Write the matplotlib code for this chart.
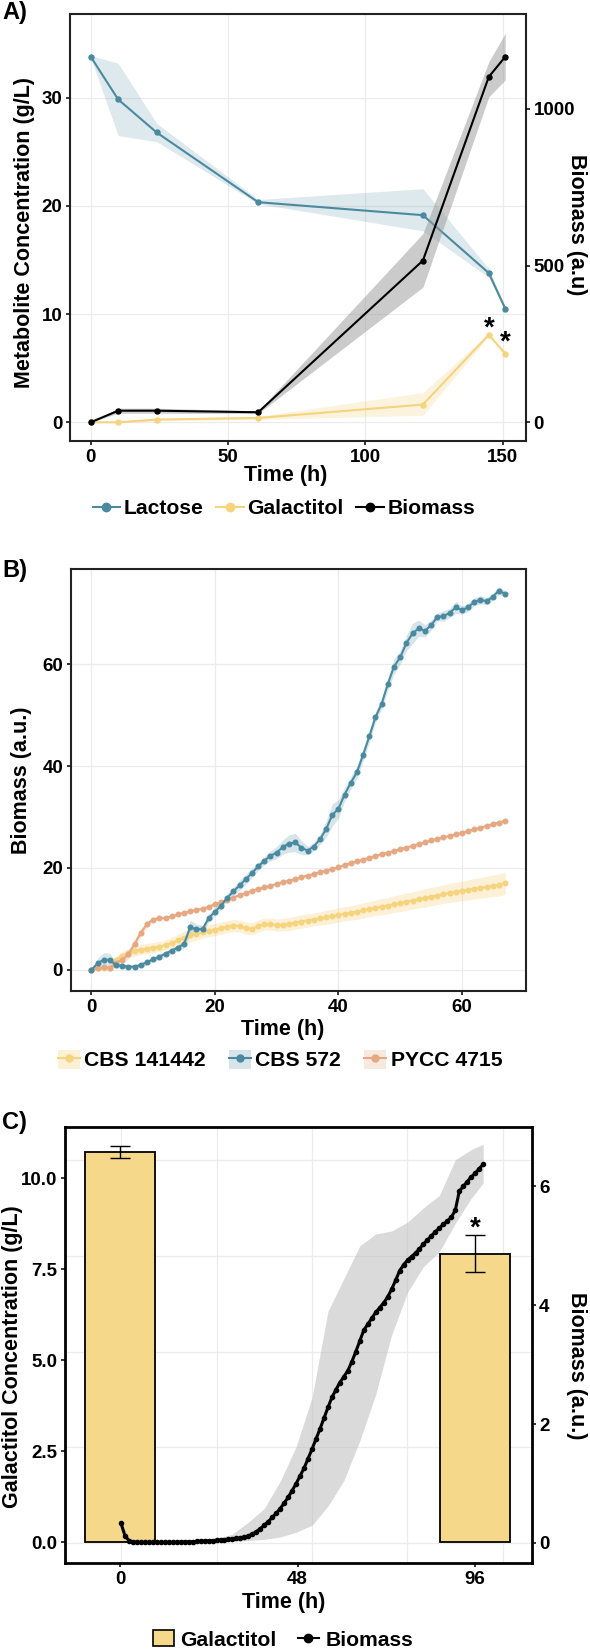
import matplotlib
matplotlib.use('Agg')
import matplotlib.pyplot as plt
from matplotlib.patches import Patch
from matplotlib.lines import Line2D
import numpy as np

# ---------------- DATA ----------------
# Panel A
a_time = [0, 10, 24, 61, 121, 145, 151]
lactose = [33.8, 29.85, 26.8, 20.35, 19.15, 13.8, 10.5]
lactose_lo = [33.7, 26.5, 25.95, 20.2, 17.7, 13.4, 10.3]
lactose_hi = [33.9, 33.2, 27.65, 20.6, 21.6, 14.2, 10.7]
galactitol = [0.0, 0.0, 0.25, 0.4, 1.64, 8.09, 6.35]
galactitol_lo = [0.0, -0.05, 0.15, 0.25, 0.65, 7.95, 6.2]
galactitol_hi = [0.0, 0.05, 0.35, 0.55, 2.75, 8.25, 6.5]
biomass_a = [0, 37, 37, 32, 516, 1102, 1166]
biomass_a_lo = [0, 29, 29, 28, 431, 1038, 1092]
biomass_a_hi = [0, 45, 45, 36, 602, 1150, 1241]

# Panel B (hourly, 0..67 h)
b_time = list(range(68))
cbs141442 = [0, 0.3, 0.3, 0.3, 2.0, 2.8, 3.3, 3.7, 4.0, 4.2, 4.4, 4.6, 4.9, 5.3, 5.8, 6.3, 6.8,
             7.1, 7.4, 7.7, 7.9, 8.2, 8.5, 8.7, 8.6, 8.2, 8.1, 8.6, 9.0, 9.0, 8.8, 8.9, 9.0, 9.3,
             9.5, 9.7, 9.9, 10.1, 10.3, 10.5, 10.8, 11.0, 11.2, 11.4, 11.7, 11.9, 12.2, 12.4,
             12.6, 12.9, 13.1, 13.4, 13.6, 13.9, 14.1, 14.4, 14.6, 14.9, 15.1, 15.3, 15.5, 15.7,
             15.9, 16.1, 16.3, 16.5, 16.7, 17.0]
cbs141442_sd = [0.2, 0.3, 0.4, 0.5, 0.7, 0.8, 0.9, 1.0, 1.0, 1.0, 1.0, 1.0, 1.0, 1.1, 1.2, 1.3,
                1.3, 1.3, 1.2, 1.2, 1.2, 1.2, 1.2, 1.2, 1.2, 1.2, 1.2, 1.2, 1.2, 1.2, 1.2, 1.2,
                1.3, 1.3, 1.3, 1.3, 1.3, 1.3, 1.4, 1.4, 1.4, 1.4, 1.4, 1.5, 1.5, 1.5, 1.5, 1.6,
                1.6, 1.6, 1.7, 1.7, 1.7, 1.7, 1.8, 1.8, 1.8, 1.8, 1.9, 1.9, 1.9, 2.0, 2.0, 2.0,
                2.1, 2.1, 2.2, 2.2]
cbs572 = [0, 1.3, 2.0, 2.0, 0.9, 0.8, 0.65, 0.65, 1.0, 1.5, 2.1, 2.6, 3.2, 3.8, 4.4, 5.1, 8.4,
          8.0, 8.0, 10.2, 11.4, 12.6, 14.2, 15.4, 16.6, 17.8, 19.0, 20.3, 21.4, 22.4, 23.0, 24.1,
          24.8, 25.0, 24.0, 23.4, 24.2, 25.6, 27.6, 30.4, 31.6, 34.4, 36.7, 38.8, 42.2, 45.8,
          49.6, 52.2, 56.1, 59.5, 61.3, 64.1, 66.0, 67.0, 66.5, 67.6, 69.2, 69.4, 70.0, 71.1,
          70.6, 71.1, 72.2, 72.6, 72.3, 73.2, 74.4, 73.7]
cbs572_sd = [0.2, 1.0, 1.4, 1.3, 0.5, 0.4, 0.4, 0.4, 0.4, 0.5, 0.5, 0.5, 0.5, 0.5, 0.6, 0.8, 1.4,
             1.0, 0.8, 0.8, 0.8, 0.7, 0.7, 0.8, 1.0, 1.0, 0.9, 0.8, 0.8, 1.0, 1.2, 1.4, 1.7, 1.8,
             1.4, 0.8, 0.8, 1.0, 1.6, 2.2, 1.8, 1.3, 1.2, 1.2, 1.2, 1.2, 1.0, 1.0, 1.2, 1.5, 1.3,
             1.5, 2.0, 1.6, 1.2, 1.0, 0.8, 1.0, 0.9, 1.2, 0.8, 0.8, 0.8, 0.8, 0.7, 0.7, 0.7, 0.7]
pycc4715 = [0, 0.3, 0.5, 0.4, 1.4, 2.0, 3.1, 5.1, 7.3, 9.0, 9.9, 10.2, 10.2, 10.5, 10.9, 11.2,
            11.5, 11.8, 12.0, 12.4, 12.9, 13.3, 13.7, 14.2, 14.7, 15.0, 15.5, 15.9, 16.2, 16.5,
            16.9, 17.2, 17.5, 17.8, 18.2, 18.5, 18.8, 19.2, 19.5, 19.8, 20.1, 20.6, 20.95, 21.3,
            21.65, 22.0, 22.35, 22.7, 23.0, 23.35, 23.7, 24.0, 24.35, 24.7, 25.05, 25.4, 25.7,
            26.0, 26.3, 26.6, 26.9, 27.25, 27.6, 27.9, 28.25, 28.6, 28.9, 29.3]
pycc4715_sd = [0.2, 0.2, 0.2, 0.2, 0.5, 0.7, 0.9, 1.0, 0.8, 0.6, 0.4, 0.3, 0.3, 0.3, 0.3, 0.3,
               0.3, 0.3, 0.3, 0.3, 0.3, 0.3, 0.3, 0.3, 0.3, 0.3, 0.3, 0.3, 0.3, 0.3, 0.3, 0.3,
               0.3, 0.3, 0.3, 0.3, 0.3, 0.3, 0.3, 0.3, 0.3, 0.3, 0.3, 0.3, 0.3, 0.3, 0.3, 0.3,
               0.3, 0.3, 0.3, 0.3, 0.3, 0.3, 0.3, 0.3, 0.3, 0.3, 0.3, 0.3, 0.3, 0.3, 0.3, 0.3,
               0.3, 0.3, 0.3, 0.3]

# Panel C
gal_times = [0, 96]
gal_mean = [10.73, 7.93]
gal_sd = [0.17, 0.52]
c_time = list(range(92))
c_biomass = [0.33, 0.12, 0.04, 0.02, 0.01, 0.01, 0.01, 0.01, 0.01, 0.01, 0.01, 0.01, 0.01, 0.01,
             0.015, 0.015, 0.02, 0.02, 0.02, 0.025, 0.03, 0.03, 0.035, 0.04, 0.045, 0.05, 0.055,
             0.06, 0.07, 0.08, 0.09, 0.10, 0.12, 0.15, 0.19, 0.24, 0.30, 0.36, 0.43, 0.50, 0.58,
             0.67, 0.77, 0.88, 1.0, 1.13, 1.26, 1.42, 1.58, 1.75, 1.92, 2.1, 2.28, 2.45, 2.58,
             2.7, 2.8, 2.9, 3.05, 3.22, 3.4, 3.58, 3.68, 3.78, 3.88, 3.96, 4.04, 4.14, 4.27, 4.42,
             4.58, 4.68, 4.76, 4.82, 4.88, 4.95, 5.03, 5.1, 5.17, 5.24, 5.3, 5.36, 5.42, 5.48,
             5.6, 5.92, 6.0, 6.08, 6.16, 6.22, 6.3, 6.37]
c_band_t = [0, 2, 4, 8, 12, 16, 20, 24, 28, 32, 36, 40, 44, 48, 52, 56, 60, 64, 68, 72, 76, 80,
            84, 88, 91]
c_band_hi = [0.38, 0.07, 0.03, 0.03, 0.03, 0.04, 0.05, 0.07, 0.15, 0.35, 0.58, 1.04, 1.62, 2.45,
             3.9, 4.45, 5.0, 5.2, 5.25, 5.4, 5.64, 5.85, 6.45, 6.62, 6.71]
c_band_lo = [0.28, 0.01, 0.0, 0.0, 0.0, 0.0, 0.01, 0.02, 0.03, 0.04, 0.06, 0.1, 0.18, 0.3, 0.62,
             1.05, 1.72, 2.5, 3.5, 4.22, 4.65, 4.9, 5.38, 5.8, 6.06]

# ---------------- STYLE ----------------
W, H = 590, 1651
plt.rcParams['font.family'] = ['Liberation Sans', 'DejaVu Sans']
plt.rcParams['font.weight'] = 'bold'
plt.rcParams['axes.labelweight'] = 'bold'

BLUE = '#4a8aa0'
YEL = '#f6d37d'
ORA = '#e6a882'
BAR = '#f5d88a'
GRID = '#ebebeb'
TICK_FS = 13.5
TITLE_FS = 15.5
LEG_FS = 15.2
PANEL_FS = 17

fig = plt.figure(figsize=(W / 100, H / 100), dpi=100)


def rect(l, t, r, b):
    return [l / W, 1 - b / H, (r - l) / W, (b - t) / H]


def fx(x):
    return x / W


def fy(y):
    return 1 - y / H


def style(ax, color='#222222', lw=1.5, grid=True):
    for s in ax.spines.values():
        s.set_color(color)
        s.set_linewidth(lw)
    ax.tick_params(length=3, width=1.1, colors='black', labelsize=TICK_FS, pad=2.5)
    if grid:
        ax.grid(True, color=GRID, lw=0.9)
    ax.set_axisbelow(True)


# ---------------- PANEL A ----------------
axA = fig.add_axes(rect(70, 14, 526, 441))
style(axA)
axA.set_xlim(-7.55, 158.55)
axA.set_ylim(-1.73, 37.75)
axA.set_xticks([0, 50, 100, 150])
axA.set_yticks([0, 10, 20, 30])
axA.fill_between(a_time, lactose_lo, lactose_hi, color=BLUE, alpha=0.18, lw=0)
axA.fill_between(a_time, galactitol_lo, galactitol_hi, color=YEL, alpha=0.25, lw=0)
axA.plot(a_time, lactose, color=BLUE, marker='o', ms=3.6, lw=1.5)
axA.plot(a_time, galactitol, color=YEL, marker='o', ms=3.6, lw=1.5)
axA.text(a_time[5], galactitol[5] + 0.56, '*', ha='center', va='center', fontsize=20)
axA.text(a_time[6], galactitol[6] + 1.0, '*', ha='center', va='center', fontsize=20)

K = 34.5
axA2 = axA.twinx()
axA2.set_ylim(-1.73 * K, 37.75 * K)
axA2.set_yticks([0, 500, 1000])
axA2.tick_params(length=3, width=1.1, colors='black', labelsize=TICK_FS, pad=2.5)
for s in axA2.spines.values():
    s.set_visible(False)
axA2.fill_between(a_time, biomass_a_lo, biomass_a_hi, color='#999999', alpha=0.5, lw=0)
axA2.plot(a_time, biomass_a, color='black', marker='o', ms=3.6, lw=1.5)

fig.text(fx(2), fy(12), 'A)', fontsize=PANEL_FS, ha='left', va='center')
fig.text(fx(25), fy(232), 'Metabolite Concentration (g/L)', rotation=90,
         fontsize=TITLE_FS, ha='center', va='center')
fig.text(fx(576), fy(225), 'Biomass (a.u)', rotation=270, fontsize=TITLE_FS,
         ha='center', va='center')
fig.text(fx(286), fy(475), 'Time (h)', fontsize=TITLE_FS, ha='center', va='center')

hA = [Line2D([], [], color=BLUE, marker='o', ms=6, lw=1.5),
      Line2D([], [], color=YEL, marker='o', ms=6, lw=1.5),
      Line2D([], [], color='black', marker='o', ms=6, lw=1.5)]
fig.legend(hA, ['Lactose', 'Galactitol', 'Biomass'], loc='center',
           bbox_to_anchor=(fx(284), fy(509)), ncol=3, frameon=False, fontsize=LEG_FS,
           handlelength=1.3, handletextpad=0.18, columnspacing=0.6, borderpad=0,
           borderaxespad=0)

# ---------------- PANEL B ----------------
axB = fig.add_axes(rect(70.7, 569, 526, 991))
style(axB)
axB.set_xlim(-3.35, 70.37)
axB.set_ylim(-4.12, 78.63)
axB.set_xticks([0, 20, 40, 60])
axB.set_yticks([0, 20, 40, 60])
series = [(cbs141442, cbs141442_sd, YEL, 0.3), (cbs572, cbs572_sd, BLUE, 0.22),
          (pycc4715, pycc4715_sd, ORA, 0.25)]
for vals, sd, col, al in series:
    v = np.array(vals)
    s = np.array(sd)
    axB.fill_between(b_time, v - s, v + s, color=col, alpha=al, lw=0)
for vals, sd, col, al in [series[0], series[2], series[1]]:
    axB.plot(b_time, vals, color=col, marker='o', ms=3.3, lw=1.5)

fig.text(fx(2), fy(570), 'B)', fontsize=PANEL_FS, ha='left', va='center')
fig.text(fx(21.5), fy(780), 'Biomass (a.u.)', rotation=90, fontsize=TITLE_FS,
         ha='center', va='center')
fig.text(fx(283), fy(1029), 'Time (h)', fontsize=TITLE_FS, ha='center', va='center')

hB = [(Patch(facecolor=col, alpha=al, lw=0), Line2D([], [], color=col, marker='o', ms=5, lw=1.5))
      for _, _, col, al in series]
fig.legend(hB, ['CBS 141442', 'CBS 572', 'PYCC 4715'], loc='center',
           bbox_to_anchor=(fx(280), fy(1060)), ncol=3, frameon=False, fontsize=LEG_FS,
           handlelength=1.05, handleheight=1.0, handletextpad=0.2, columnspacing=1.1,
           borderpad=0, borderaxespad=0)

# ---------------- PANEL C ----------------
cr = rect(64.7, 1127, 531.6, 1563)
axG = fig.add_axes(cr)
axG.set_zorder(0)
axG.set_xlim(-0.59, 4.3)
axG.set_ylim(-0.209, 4.347)
axG.set_xticks([0, 1, 2, 3, 4])
axG.set_yticks([0, 1, 2, 3, 4])
axG.grid(True, color=GRID, lw=0.9)
axG.tick_params(length=0, labelbottom=False, labelleft=False)
for s in axG.spines.values():
    s.set_visible(False)

axC = fig.add_axes(cr)
axC.set_zorder(1)
axC.patch.set_visible(False)
style(axC, color='black', lw=2.0, grid=False)
axC.set_xlim(-14.96, 111.3)
axC.set_ylim(-0.577, 11.41)
axC.set_xticks([0, 48, 96])
axC.set_yticks([0, 2.5, 5, 7.5, 10])
axC.set_yticklabels(['0.0', '2.5', '5.0', '7.5', '10.0'])
axC.bar(gal_times, gal_mean, width=19.1, color=BAR, edgecolor='black', lw=1.3)
axC.errorbar(gal_times, gal_mean, yerr=gal_sd, fmt='none', ecolor='black', elinewidth=1.0,
             capsize=7.5, capthick=1.0)
axC.text(gal_times[1], gal_mean[1] + gal_sd[1] + 0.17, '*', ha='center', va='center',
         fontsize=20)

axL = fig.add_axes(cr)
axL.set_zorder(2)
axL.patch.set_visible(False)
axL.set_xlim(-14.15, 103.17)
axL.set_ylim(-0.337, 7.0)
axL.set_xticks([])
axL.yaxis.tick_right()
axL.set_yticks([0, 2, 4, 6])
axL.tick_params(length=3, width=1.1, colors='black', labelsize=TICK_FS, pad=2.5)
for s in axL.spines.values():
    s.set_visible(False)
axL.fill_between(c_band_t, c_band_lo, c_band_hi, color='#bdbdbd', alpha=0.55, lw=0)
axL.plot(c_time, c_biomass, color='black', marker='o', ms=3.0, lw=2.2)

fig.text(fx(2), fy(1122), 'C)', fontsize=PANEL_FS, ha='left', va='center')
fig.text(fx(13), fy(1357), 'Galactitol Concentration (g/L)', rotation=90,
         fontsize=TITLE_FS, ha='center', va='center')
fig.text(fx(576), fy(1366), 'Biomass (a.u.)', rotation=270, fontsize=TITLE_FS,
         ha='center', va='center')
fig.text(fx(284), fy(1602), 'Time (h)', fontsize=TITLE_FS, ha='center', va='center')

hC = [Patch(facecolor=BAR, edgecolor='black', lw=1.2),
      Line2D([], [], color='black', marker='o', ms=6, lw=1.5)]
fig.legend(hC, ['Galactitol', 'Biomass'], loc='center', bbox_to_anchor=(fx(283), fy(1640)),
           ncol=2, frameon=False, fontsize=LEG_FS, handlelength=1.0, handleheight=0.8,
           handletextpad=0.3, columnspacing=1.0, borderpad=0, borderaxespad=0)

fig.savefig('out.png', dpi=100)
